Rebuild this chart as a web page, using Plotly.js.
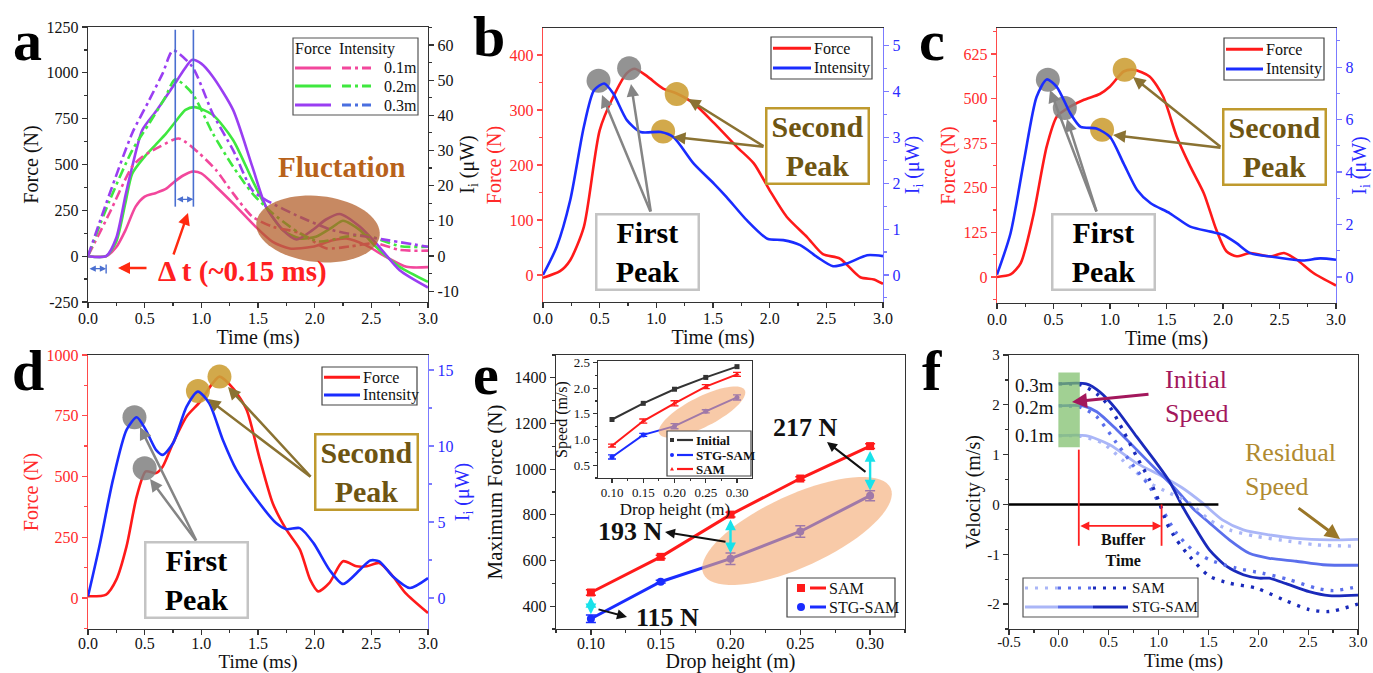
<!DOCTYPE html>
<html><head><meta charset="utf-8">
<script src="https://cdn.plot.ly/plotly-3.0.1.min.js"></script>
<style>html,body{margin:0;padding:0;background:#fff}#g{width:1373px;height:673px}</style>
</head><body><div id="g"></div>
<script>
// ---------------- DATA ----------------
// Panel a : force (N) and intensity (uW) for three drop heights
const aForceT01 = [0,0.16,0.25,0.33,0.42,0.5,0.6,0.69,0.76,0.84,0.92,1.0,1.13,1.28,1.48,1.63,1.78,1.98,2.16,2.28,2.45,2.63,2.81,3.0];
const aForce01  = [0,0,50,141,270,325,345,368,405,440,461,452,379,288,160,78,42,51,87,96,60,-4,-58,-60];
const aIntT01   = [0,0.19,0.39,0.48,0.63,0.8,0.98,1.13,1.28,1.45,1.63,1.87,2.1,2.31,2.54,2.75,3.0];
const aInt01    = [0,12.2,25.4,28.2,31.0,33.4,29.2,24.4,17.8,11.2,8.3,6.5,2.2,2.7,3.6,1.7,1.5];
const aForceT02 = [0,0.16,0.25,0.33,0.39,0.5,0.6,0.69,0.78,0.86,0.94,1.1,1.28,1.45,1.57,1.72,1.87,2.01,2.16,2.25,2.4,2.54,2.75,3.0];
const aForce02  = [0,0,80,290,450,543,610,670,740,798,813,771,634,415,270,142,97,106,160,193,142,51,-58,-140];
const aIntT02   = [0,0.19,0.39,0.54,0.68,0.77,0.92,1.1,1.28,1.45,1.63,1.87,2.04,2.28,2.45,2.75,3.0];
const aInt02    = [0,15.7,30,37.7,45,50.2,46.2,34.9,25.4,17.8,12.1,6.4,4.1,5.5,5.9,2.8,2.6];
const aForceT03 = [0,0.16,0.25,0.33,0.39,0.48,0.6,0.69,0.77,0.85,0.92,1.0,1.1,1.28,1.45,1.57,1.72,1.84,1.98,2.1,2.22,2.4,2.57,2.75,3.0];
const aForce03  = [0,0,100,330,488,689,790,871,944,1020,1071,1050,980,798,488,270,142,91,142,200,230,160,51,-77,-171];
const aIntT03   = [0,0.19,0.39,0.54,0.66,0.75,0.92,1.1,1.28,1.45,1.57,1.87,2.16,2.45,2.6,3.0];
const aInt03    = [0,17.6,34.9,44.3,52,58.4,53.8,40.5,30.1,18.7,15.9,11.1,7.3,5.5,4.7,2.6];

// Panel b
const bForceT = [0,0.15,0.24,0.36,0.5,0.62,0.74,0.81,0.92,1.06,1.18,1.33,1.51,1.71,1.86,2.0,2.15,2.33,2.47,2.62,2.8,2.92,3.0];
const bForce  = [-5,7,27,87,263,324,367,375,361,339,330,312,276,233,203,154,106,69,38,30,-4,-8,-16];
const bIntT   = [0,0.12,0.24,0.36,0.45,0.54,0.62,0.74,0.86,1.04,1.15,1.33,1.51,1.62,1.8,1.98,2.12,2.27,2.42,2.56,2.68,2.86,3.0];
const bInt    = [0,0.61,1.63,3.23,4.03,4.18,3.96,3.38,3.12,3.12,3.01,2.43,1.99,1.70,1.19,0.79,0.76,0.65,0.39,0.19,0.25,0.43,0.41];
const bFirstX = [0.49,0.76], bFirstY = [353,376];
const bSecondX = [1.18,1.06], bSecondY = [329,261];

// Panel c
const cForceT = [0,0.12,0.21,0.32,0.44,0.53,0.65,0.77,0.91,1.0,1.12,1.21,1.35,1.47,1.59,1.71,1.83,1.94,2.03,2.12,2.24,2.42,2.54,2.65,2.8,3.0];
const cForce  = [0,7,39,170,366,450,478,497,513,534,576,581,562,506,394,310,235,133,72,58,67,58,67,49,11,-24];
const cIntT   = [0,0.12,0.24,0.35,0.44,0.53,0.65,0.74,0.88,1.0,1.12,1.24,1.36,1.53,1.71,1.89,2.0,2.12,2.24,2.42,2.59,2.71,2.86,3.0];
const cInt    = [0.09,1.67,4.46,6.86,7.53,7.24,6.23,5.72,5.66,5.34,4.33,3.32,2.81,2.43,1.92,1.73,1.61,1.29,0.91,0.78,0.68,0.63,0.71,0.66];
const cFirstX = [0.45,0.60], cFirstY = [553,474];
const cSecondX = [1.13,0.93], cSecondY = [581,413];

// Panel d
const dForceT = [0,0.16,0.25,0.34,0.43,0.51,0.6,0.66,0.75,0.87,0.99,1.1,1.16,1.28,1.4,1.51,1.63,1.75,1.87,1.96,2.03,2.13,2.25,2.37,2.46,2.57,2.69,2.8,3.0];
const dForce  = [7,14,75,212,418,521,514,541,637,747,808,884,911,863,774,582,390,281,199,75,27,62,151,130,130,144,89,21,-62];
const dIntT   = [0,0.1,0.22,0.34,0.43,0.51,0.6,0.66,0.75,0.87,0.97,1.07,1.19,1.31,1.49,1.66,1.75,1.87,1.99,2.13,2.25,2.4,2.49,2.57,2.69,2.84,3.0];
const dInt    = [0.11,3.39,7.77,11.06,11.89,11.06,9.75,9.42,10.18,12.59,13.58,12.81,10.4,8.43,6.46,4.93,4.53,4.6,3.61,1.86,0.92,1.86,2.47,2.41,1.42,0.66,1.31];
const dFirstX = [0.41,0.50], dFirstY = [744,534];
const dSecondX = [0.97,1.16], dSecondY = [852,911];

// Panel e
const eHeight   = [0.10,0.15,0.20,0.25,0.30];
const eSAM      = [460,616,801,959,1101];
const eSAMErr   = [12,7,10,8,10];
const eSTG      = [345,507,608,727,884];
const eSTGErr   = [16,6,25,25,22];
const eGapTop   = [440,780,1080];
const eGapBot   = [358,625,900];
const eGapX     = [0.10,0.20,0.30];
// Inset speeds (m/s)
const inInitial = [1.39,1.705,1.98,2.21,2.42];
const inSTG     = [0.66,1.09,1.26,1.55,1.82];
const inSTGErr  = [0.04,0.03,0.05,0.03,0.05];
const inSAM     = [0.88,1.36,1.705,2.03,2.27];
const inSAMErr  = [0.03,0.04,0.05,0.04,0.04];

// Panel f : velocity (m/s)
const fStg03T = [0,0.275,0.41,0.58,0.78,0.98,1.11,1.24,1.38,1.51,1.68,1.85,2.01,2.11,2.28,2.51,2.71,3.0];
const fStg03  = [2.42,2.42,2.26,1.9,1.36,0.83,0.46,-0.04,-0.51,-0.91,-1.24,-1.41,-1.48,-1.48,-1.59,-1.75,-1.83,-1.82];
const fSam03T = [0,0.22,0.38,0.51,0.64,0.78,0.91,1.01,1.08,1.18,1.31,1.51,1.71,1.98,2.25,2.51,2.71,3.0];
const fSam03  = [2.42,2.4,2.22,1.96,1.5,0.96,0.49,0.03,-0.37,-0.71,-1.04,-1.44,-1.58,-1.68,-1.91,-2.11,-2.15,-2.0];
const fStg02T = [0,0.24,0.38,0.58,0.78,0.98,1.18,1.34,1.51,1.71,1.91,2.11,2.38,2.65,3.0];
const fStg02  = [1.98,1.98,1.86,1.5,1.1,0.69,0.29,-0.07,-0.37,-0.71,-0.98,-1.08,-1.14,-1.21,-1.22];
const fSam02T = [0,0.22,0.38,0.58,0.78,0.91,1.04,1.18,1.34,1.51,1.78,2.04,2.31,2.58,2.75,3.0];
const fSam02  = [1.98,1.95,1.76,1.23,0.69,0.36,-0.11,-0.58,-0.91,-1.11,-1.28,-1.38,-1.51,-1.68,-1.73,-1.65];
const fStg01T = [0,0.27,0.51,0.78,1.04,1.24,1.44,1.64,1.85,2.11,2.38,2.71,3.0];
const fStg01  = [1.38,1.38,1.2,0.83,0.56,0.33,0.03,-0.31,-0.51,-0.61,-0.68,-0.71,-0.70];
const fSam01T = [0,0.22,0.44,0.71,0.91,1.11,1.31,1.51,1.71,1.98,2.25,2.58,3.0];
const fSam01  = [1.38,1.37,1.23,0.76,0.43,0.23,0.03,-0.31,-0.51,-0.64,-0.72,-0.81,-0.84];

// Tick labels
const aForceTicks = [-250,0,250,500,750,1000,1250];
const aForceText  = ['-250','0','250','500','750','1000','1250'];
const aIntTicks   = [-10,0,10,20,30,40,50,60];
const aIntText    = ['-10','0','10','20','30','40','50','60'];
const cForceTicks = [0,125,250,375,500,625];
const fTimeTicks  = [-0.5,0,0.5,1,1.5,2,2.5,3];
const fTimeText   = ['-0.5','0.0','0.5','1.0','1.5','2.0','2.5','3.0'];
const fVelTicks   = [-2,-1,0,1,2,3];
const fVelText    = ['-2','-1','0','1','2','3'];
const heightTicks = [0.10,0.15,0.20,0.25,0.30];

// ---------------- HELPERS ----------------
const W = 1373, H = 673;
const FONT = 'Liberation Serif';
const X = p => p / W;
const Y = p => 1 - p / H;
const RED = '#ff1a1a', BLUE = '#1a2cff', REDTXT = '#ff2a2a', BLUETXT = '#2b2bff';
const PINK = '#f2479c', GREEN = '#3fe83f', PURPLE = '#9a3ef2';
const FL = '#aab6f7', FM = '#5b6fec', FD = '#1a2abb';

function ax(o) {
  const base = {showline:true, linewidth:1.3, linecolor:'#333', ticks:'outside', ticklen:5, tickwidth:1.2,
    tickcolor:'#333', showgrid:false, zeroline:false, fixedrange:true,
    tickfont:{family:FONT, size:16, color:'#111'}};
  return Object.assign(base, o);
}
function xax(o) { return ax(Object.assign({ticklabelstandoff:-4}, o)); }
function xaxLow(o) { return ax(Object.assign({ticklabelstandoff:-6}, o)); }
function ttl(text, color, size, standoff) {
  return {text:text, font:{family:FONT, size:size||20, color:color||'#111'}, standoff:standoff===undefined?4:standoff};
}
function ln(x, y, xa, ya, color, width, dash, extra) {
  return Object.assign({type:'scatter', mode:'lines', x:x, y:y, xaxis:xa, yaxis:ya,
    line:{color:color, width:width, dash:dash||'solid', shape:'spline', smoothing:0.7}, showlegend:false, hoverinfo:'skip'}, extra||{});
}
function dots(x, y, xa, ya, color) {
  return {type:'scatter', mode:'markers', x:x, y:y, xaxis:xa, yaxis:ya, showlegend:false, hoverinfo:'skip',
    marker:{size:24, color:color, line:{width:0}}};
}
function arrowPx(hx, hy, tx, ty, color, width, extra) {
  return Object.assign({x:X(hx), y:Y(hy), xref:'paper', yref:'paper', ax:tx-hx, ay:ty-hy, axref:'pixel', ayref:'pixel',
    text:'', showarrow:true, arrowhead:2, arrowsize:1, arrowwidth:width, arrowcolor:color}, extra||{});
}
function arrowData(xa, ya, hx, hy, tx, ty, color, width, extra) {
  return Object.assign({x:hx, y:hy, xref:xa, yref:ya, ax:tx, ay:ty, axref:xa, ayref:ya,
    text:'', showarrow:true, arrowhead:2, arrowsize:1, arrowwidth:width, arrowcolor:color}, extra||{});
}
function textPx(px, py, text, size, color, extra) {
  return Object.assign({x:X(px), y:Y(py), xref:'paper', yref:'paper', text:text, showarrow:false,
    font:{family:FONT, size:size, color:color}, xanchor:'center', yanchor:'middle'}, extra||{});
}
function boxPx(cx, cy, text, textColor, borderColor) {
  return {x:X(cx), y:Y(cy), xref:'paper', yref:'paper', text:'<b>'+text+'</b>', showarrow:false,
    font:{family:FONT, size:30, color:textColor}, xanchor:'center', yanchor:'middle',
    width:100, height:73, bgcolor:'#ffffff', bordercolor:borderColor, borderwidth:2.5, borderpad:0, align:'center'};
}
function ellipsePath(cx, cy, a, b, deg) {
  const th = deg * Math.PI / 180; let d = '';
  for (let i = 0; i <= 72; i++) {
    const t = i / 72 * 2 * Math.PI;
    const px = cx + a*Math.cos(t)*Math.cos(th) - b*Math.sin(t)*Math.sin(th);
    const py = cy - (a*Math.cos(t)*Math.sin(th) + b*Math.sin(t)*Math.cos(th));
    d += (i === 0 ? 'M' : 'L') + X(px).toFixed(5) + ',' + Y(py).toFixed(5);
  }
  return d + 'Z';
}
function segPx(x0, x1, y, color, width, dash) {
  return {type:'line', xref:'paper', yref:'paper', x0:X(x0), x1:X(x1), y0:Y(y), y1:Y(y), line:{color:color, width:width, dash:dash||'solid'}, layer:'above'};
}
function rectPx(x0, y0, x1, y1, color) {
  return {type:'rect', xref:'paper', yref:'paper', x0:X(x0), x1:X(x1), y0:Y(y1), y1:Y(y0), line:{color:color, width:1.2}, fillcolor:'#ffffff', layer:'above'};
}
function markPx(kind, cx, cy, r, color) {
  if (kind === 'tri') {
    return {type:'path', xref:'paper', yref:'paper', layer:'above', fillcolor:color, line:{width:0},
      path:'M'+X(cx-r)+','+Y(cy+r*0.8)+'L'+X(cx+r)+','+Y(cy+r*0.8)+'L'+X(cx)+','+Y(cy-r)+'Z'};
  }
  return {type:kind==='sq'?'rect':'circle', xref:'paper', yref:'paper', layer:'above', fillcolor:color, line:{width:0},
    x0:X(cx-r), x1:X(cx+r), y0:Y(cy+r), y1:Y(cy-r)};
}
const DD = '10px,4px,3px,4px';
const DOT = '3px,7px';

// ---------------- TRACES ----------------
const traces = [
  // a
  ln(aForceT01, aForce01, 'x', 'y', PINK, 2.6, 'solid', {name:'Force 0.1m'}),
  ln(aForceT02, aForce02, 'x', 'y', GREEN, 2.6, 'solid', {name:'Force 0.2m'}),
  ln(aForceT03, aForce03, 'x', 'y', PURPLE, 2.6, 'solid', {name:'Force 0.3m'}),
  ln(aIntT01, aInt01, 'x', 'y2', PINK, 2.6, DD, {name:'Intensity 0.1m'}),
  ln(aIntT02, aInt02, 'x', 'y2', GREEN, 2.6, DD, {name:'Intensity 0.2m'}),
  ln(aIntT03, aInt03, 'x', 'y2', PURPLE, 2.6, DD, {name:'Intensity 0.3m'}),
  // b
  ln(bForceT, bForce, 'x2', 'y3', RED, 2.6, 'solid', {name:'Force'}),
  ln(bIntT, bInt, 'x2', 'y4', BLUE, 2.6, 'solid', {name:'Intensity'}),
  dots(bFirstX, bFirstY, 'x2', 'y3', 'rgba(128,128,128,0.85)'),
  dots(bSecondX, bSecondY, 'x2', 'y3', 'rgba(205,160,55,0.9)'),
  // c
  ln(cForceT, cForce, 'x3', 'y5', RED, 2.6, 'solid', {name:'Force'}),
  ln(cIntT, cInt, 'x3', 'y6', BLUE, 2.6, 'solid', {name:'Intensity'}),
  dots(cFirstX, cFirstY, 'x3', 'y5', 'rgba(128,128,128,0.85)'),
  dots(cSecondX, cSecondY, 'x3', 'y5', 'rgba(205,160,55,0.9)'),
  // d
  ln(dForceT, dForce, 'x4', 'y7', RED, 2.6, 'solid', {name:'Force'}),
  ln(dIntT, dInt, 'x4', 'y8', BLUE, 2.6, 'solid', {name:'Intensity'}),
  dots(dFirstX, dFirstY, 'x4', 'y7', 'rgba(128,128,128,0.85)'),
  dots(dSecondX, dSecondY, 'x4', 'y7', 'rgba(205,160,55,0.9)'),
  // e
  {type:'scatter', mode:'lines+markers', x:eHeight, y:eSAM, xaxis:'x5', yaxis:'y9', name:'SAM', showlegend:false,
   line:{color:RED, width:3}, marker:{symbol:'square', size:8, color:RED},
   error_y:{type:'data', array:eSAMErr, color:RED, thickness:1.5, width:5}, hoverinfo:'skip'},
  {type:'scatter', mode:'lines+markers', x:eHeight, y:eSTG, xaxis:'x5', yaxis:'y9', name:'STG-SAM', showlegend:false,
   line:{color:BLUE, width:3}, marker:{symbol:'circle', size:8, color:BLUE},
   error_y:{type:'data', array:eSTGErr, color:BLUE, thickness:1.5, width:5}, hoverinfo:'skip'},
  // inset
  {type:'scatter', mode:'lines+markers', x:eHeight, y:inInitial, xaxis:'x6', yaxis:'y10', name:'Initial', showlegend:false,
   line:{color:'#333', width:2}, marker:{symbol:'square', size:5, color:'#333'}, hoverinfo:'skip'},
  {type:'scatter', mode:'lines+markers', x:eHeight, y:inSTG, xaxis:'x6', yaxis:'y10', name:'STG-SAM', showlegend:false,
   line:{color:BLUE, width:2}, marker:{symbol:'circle', size:5, color:BLUE},
   error_y:{type:'data', array:inSTGErr, color:BLUE, thickness:1.3, width:4}, hoverinfo:'skip'},
  {type:'scatter', mode:'lines+markers', x:eHeight, y:inSAM, xaxis:'x6', yaxis:'y10', name:'SAM', showlegend:false,
   line:{color:RED, width:2}, marker:{symbol:'triangle-up', size:5, color:RED},
   error_y:{type:'data', array:inSAMErr, color:RED, thickness:1.3, width:4}, hoverinfo:'skip'},
  // f
  ln(fStg01T, fStg01, 'x7', 'y11', FL, 2.8, 'solid', {name:'STG-SAM 0.1m'}),
  ln(fStg02T, fStg02, 'x7', 'y11', FM, 2.8, 'solid', {name:'STG-SAM 0.2m'}),
  ln(fStg03T, fStg03, 'x7', 'y11', FD, 2.8, 'solid', {name:'STG-SAM 0.3m'}),
  ln(fSam01T, fSam01, 'x7', 'y11', FL, 3.4, DOT, {name:'SAM 0.1m'}),
  ln(fSam02T, fSam02, 'x7', 'y11', FM, 3.4, DOT, {name:'SAM 0.2m'}),
  ln(fSam03T, fSam03, 'x7', 'y11', FD, 3.4, DOT, {name:'SAM 0.3m'})
];

// ---------------- LAYOUT ----------------
const layout = {
  width:W, height:H, margin:{l:0, r:0, t:0, b:0}, paper_bgcolor:'#fff', plot_bgcolor:'rgba(0,0,0,0)',
  font:{family:FONT, size:16, color:'#111'}, showlegend:false,
  // a
  xaxis: xax({domain:[X(88),X(428)], anchor:'y', range:[0,3], dtick:0.5, tick0:0, tickformat:'.1f', mirror:true,
    minor:{ticks:'outside', ticklen:3, dtick:0.25, tick0:0, tickcolor:'#333'}, title:ttl('Time (ms)', '#111', 20, 0)}),
  yaxis: ax({domain:[Y(302),Y(27)], anchor:'x', range:[-250,1250], tickmode:'array', tickvals:aForceTicks, ticktext:aForceText,
    minor:{ticks:'outside', ticklen:3, dtick:125, tick0:0, tickcolor:'#333'}, title:ttl('Force (N)', '#111', 20, 2)}),
  yaxis2: ax({overlaying:'y', anchor:'x', side:'right', range:[-13.1,65.1], tickmode:'array', tickvals:aIntTicks, ticktext:aIntText,
    minor:{ticks:'outside', ticklen:3, dtick:5, tick0:0, tickcolor:'#333'}, title:ttl('I<sub>i</sub> (μW)', '#111', 20, 2)}),
  // b
  xaxis2: xax({domain:[X(543),X(883)], anchor:'y3', range:[0,3], dtick:0.5, tick0:0, tickformat:'.1f', mirror:true,
    minor:{ticks:'outside', ticklen:3, dtick:0.25, tick0:0, tickcolor:'#333'}, title:ttl('Time (ms)', '#111', 20, 0)}),
  yaxis3: ax({domain:[Y(302),Y(28)], anchor:'x2', range:[-49,449], dtick:100, tick0:0, linecolor:'#ff4a4a', tickcolor:'#ff4a4a',
    tickfont:{family:FONT, size:16, color:REDTXT},
    minor:{ticks:'outside', ticklen:3, dtick:50, tick0:0, tickcolor:'#ff4a4a'}, title:ttl('Force (N)', REDTXT, 20, 2)}),
  yaxis4: ax({overlaying:'y3', anchor:'x2', side:'right', range:[-0.59,5.39], dtick:1, tick0:0, linecolor:'#7b7bff', tickcolor:'#7b7bff',
    tickfont:{family:FONT, size:16, color:BLUETXT},
    minor:{ticks:'outside', ticklen:3, dtick:0.5, tick0:0, tickcolor:'#7b7bff'}, title:ttl('I<sub>i</sub> (μW)', BLUETXT, 20, 2)}),
  // c
  xaxis3: xax({domain:[X(997),X(1336)], anchor:'y5', range:[0,3], dtick:0.5, tick0:0, tickformat:'.1f', mirror:true,
    minor:{ticks:'outside', ticklen:3, dtick:0.25, tick0:0, tickcolor:'#333'}, title:ttl('Time (ms)', '#111', 20, 0)}),
  yaxis5: ax({domain:[Y(303),Y(28)], anchor:'x3', range:[-73,698], tickmode:'array', tickvals:cForceTicks, linecolor:'#ff4a4a', tickcolor:'#ff4a4a',
    tickfont:{family:FONT, size:16, color:REDTXT},
    minor:{ticks:'outside', ticklen:3, dtick:62.5, tick0:0, tickcolor:'#ff4a4a'}, title:ttl('Force (N)', REDTXT, 20, 2)}),
  yaxis6: ax({overlaying:'y5', anchor:'x3', side:'right', range:[-0.99,9.49], dtick:2, tick0:0, linecolor:'#7b7bff', tickcolor:'#7b7bff',
    tickfont:{family:FONT, size:16, color:BLUETXT},
    minor:{ticks:'outside', ticklen:3, dtick:1, tick0:0, tickcolor:'#7b7bff'}, title:ttl('I<sub>i</sub> (μW)', BLUETXT, 20, 2)}),
  // d
  xaxis4: xaxLow({domain:[X(88),X(428)], anchor:'y7', range:[0,3], dtick:0.5, tick0:0, tickformat:'.1f', mirror:true,
    minor:{ticks:'outside', ticklen:3, dtick:0.25, tick0:0, tickcolor:'#333'}, title:ttl('Time (ms)', '#111', 19, 0)}),
  yaxis7: ax({domain:[Y(629),Y(355)], anchor:'x4', range:[-128,1000], dtick:250, tick0:0, linecolor:'#ff4a4a', tickcolor:'#ff4a4a',
    tickfont:{family:FONT, size:16, color:REDTXT},
    minor:{ticks:'outside', ticklen:3, dtick:125, tick0:0, tickcolor:'#ff4a4a'}, title:ttl('Force (N)', REDTXT, 20, 2)}),
  yaxis8: ax({overlaying:'y7', anchor:'x4', side:'right', range:[-2.04,15.99], dtick:5, tick0:0, linecolor:'#7b7bff', tickcolor:'#7b7bff',
    tickfont:{family:FONT, size:16, color:BLUETXT},
    minor:{ticks:'outside', ticklen:3, dtick:2.5, tick0:0, tickcolor:'#7b7bff'}, title:ttl('I<sub>i</sub> (μW)', BLUETXT, 20, 2)}),
  // e
  xaxis5: xaxLow({domain:[X(556),X(905)], anchor:'y9', range:[0.075,0.325], tickmode:'array', tickvals:heightTicks, tickformat:'.2f', mirror:true,
    minor:{ticks:'outside', ticklen:3, dtick:0.025, tick0:0.1, tickcolor:'#333'}, title:ttl('Drop height (m)', '#111', 20, 0)}),
  yaxis9: ax({domain:[Y(629),Y(355)], anchor:'x5', range:[300,1500], dtick:200, tick0:0, mirror:true,
    minor:{ticks:'outside', ticklen:3, dtick:100, tick0:0, tickcolor:'#333'}, title:ttl('Maximum Force (N)', '#111', 21, 6)}),
  // inset
  xaxis6: ax({domain:[X(598),X(752)], anchor:'y10', range:[0.0776,0.324], tickmode:'array', tickvals:heightTicks, tickformat:'.2f', mirror:true,
    ticklen:4, tickfont:{family:FONT, size:13, color:'#111'}, ticklabelstandoff:-2,
    minor:{ticks:'outside', ticklen:2, dtick:0.025, tick0:0.1, tickcolor:'#333'}, title:ttl('Drop height (m)', '#111', 17, 0)}),
  yaxis10: ax({domain:[Y(478),Y(361)], anchor:'x6', range:[0.25,2.53], dtick:0.5, tick0:0, tickformat:'.1f', mirror:true,
    ticklen:4, tickfont:{family:FONT, size:13, color:'#111'},
    minor:{ticks:'outside', ticklen:2, dtick:0.25, tick0:0, tickcolor:'#333'}, title:ttl('Speed (m/s)', '#111', 16, 2)}),
  // f
  xaxis7: xaxLow({domain:[X(1009),X(1358)], anchor:'y11', range:[-0.5,3], tickmode:'array', tickvals:fTimeTicks, ticktext:fTimeText, mirror:true,
    tickfont:{family:FONT, size:15, color:'#111'},
    minor:{ticks:'outside', ticklen:3, dtick:0.25, tick0:0, tickcolor:'#333'}, title:ttl('Time (ms)', '#111', 19, 0)}),
  yaxis11: ax({domain:[Y(629),Y(355)], anchor:'x7', range:[-2.5,3], tickmode:'array', tickvals:fVelTicks, ticktext:fVelText, mirror:true,
    tickfont:{family:FONT, size:15, color:'#111'},
    minor:{ticks:'outside', ticklen:3, dtick:0.5, tick0:0, tickcolor:'#333'}, title:ttl('Velocity (m/s)', '#111', 20, 1)}),
  shapes: [],
  annotations: []
};

const S = layout.shapes, A = layout.annotations;
// panel a decorations
S.push({type:'line', xref:'x', yref:'y', x0:0.77, x1:0.77, y0:270, y1:1235, line:{color:'#4a6fd0', width:1.6}});
S.push({type:'line', xref:'x', yref:'y', x0:0.93, x1:0.93, y0:270, y1:1235, line:{color:'#4a6fd0', width:1.6}});
S.push({type:'line', xref:'x', yref:'y', x0:0.16, x1:0.16, y0:-45, y1:-95, line:{color:'#4a6fd0', width:1.4}});
S.push({type:'path', xref:'paper', yref:'paper', path:ellipsePath(318, 229, 62, 33, -6), fillcolor:'rgb(178,92,38)', opacity:0.72, line:{width:0}, layer:'above'});
A.push(arrowData('x', 'y', 0.93, 310, 0.77, 310, '#4a6fd0', 1.4, {arrowside:'end+start', arrowsize:0.9}));
A.push(arrowData('x', 'y', 0.16, -68, 0.0, -68, '#4a6fd0', 1.4, {arrowside:'end+start', arrowsize:0.9}));
A.push(arrowPx(118, 268, 148, 268, '#ff2a10', 2.4));
A.push(arrowPx(188, 213, 173, 256, '#ff2a10', 2.4));
A.push(textPx(242, 271, '<b>Δ t (~0.15 ms)</b>', 29, '#ff2020'));
A.push(textPx(341, 167, '<b>Fluctation</b>', 29, '#b8621b'));
// panel a legend
S.push(rectPx(293, 38, 418, 115, '#555'));
A.push(textPx(313, 49, 'Force', 16, '#111'));
A.push(textPx(367, 49, 'Intensity', 16, '#111'));
[[68, PINK, PINK, '0.1m'], [86, GREEN, GREEN, '0.2m'], [105, PURPLE, '#4a6fe0', '0.3m']].forEach(r => {
  S.push(segPx(295, 331, r[0], r[1], 3));
  S.push(segPx(342, 372, r[0], r[2], 3, '9px,4px,3px,4px'));
  A.push(textPx(400, r[0], r[3], 16, '#111'));
});
// simple two-row legends for b, c, d
function legend2(x0, y0, x1, y1, seg) {
  S.push(rectPx(x0, y0, x1, y1, '#444'));
  const r1 = y0 + (y1 - y0) * 0.27, r2 = y0 + (y1 - y0) * 0.74;
  S.push(segPx(x0 + 2, x0 + seg, r1, RED, 3));
  S.push(segPx(x0 + 2, x0 + seg, r2, BLUE, 3));
  A.push(textPx(x0 + seg + 1, r1, 'Force', 16, '#111', {xanchor:'left'}));
  A.push(textPx(x0 + seg + 1, r2, 'Intensity', 16, '#111', {xanchor:'left'}));
}
legend2(771, 37, 872, 79, 40);
legend2(1224, 38, 1324, 80, 39);
legend2(322, 367, 417, 405, 38);

// panels b, c, d boxes and arrows
const GRAYA = '#858585', GOLDA = '#8a7232', GOLDTXT = '#6e5512', GOLDB = '#bf9a2e';
A.push(arrowPx(602, 95, 651, 213, GRAYA, 2.5));
A.push(arrowPx(631, 84, 651, 213, GRAYA, 2.5));
A.push(arrowPx(688, 99, 765, 147, GOLDA, 2.5));
A.push(arrowPx(673, 137, 765, 147, GOLDA, 2.5));
A.push(boxPx(647, 252, 'First<br>Peak', '#000', '#c4c4c4'));
A.push(boxPx(817, 146, 'Second<br>Peak', GOLDTXT, GOLDB));

A.push(arrowPx(1050, 90, 1097, 213, GRAYA, 2.5));
A.push(arrowPx(1067, 119, 1097, 213, GRAYA, 2.5));
A.push(arrowPx(1133, 77, 1222, 148, GOLDA, 2.5));
A.push(arrowPx(1113, 135, 1222, 148, GOLDA, 2.5));
A.push(boxPx(1103, 252, 'First<br>Peak', '#000', '#c4c4c4'));
A.push(boxPx(1274, 147, 'Second<br>Peak', GOLDTXT, GOLDB));

A.push(arrowPx(140, 427, 197, 542, GRAYA, 2.5));
A.push(arrowPx(150, 479, 197, 542, GRAYA, 2.5));
A.push(arrowPx(228, 387, 312, 478, GOLDA, 2.5));
A.push(arrowPx(208, 399, 312, 478, GOLDA, 2.5));
A.push(boxPx(196, 580, 'First<br>Peak', '#000', '#c4c4c4'));
A.push(boxPx(366, 472, 'Second<br>Peak', GOLDTXT, GOLDB));

// panel e decorations
S.push({type:'path', xref:'paper', yref:'paper', path:ellipsePath(797, 531, 103, 36, 24.6), fillcolor:'rgb(244,170,115)', opacity:0.62, line:{width:0}, layer:'above'});
S.push({type:'path', xref:'paper', yref:'paper', path:ellipsePath(702, 412, 48, 15, 27), fillcolor:'rgb(244,170,115)', opacity:0.62, line:{width:0}, layer:'above'});
eGapX.forEach((gx, i) => {
  A.push(arrowData('x5', 'y9', gx, eGapTop[i], gx, eGapBot[i], '#18e2ea', 2.4, {arrowside:'end+start', arrowsize:0.9}));
});
A.push(arrowPx(665, 532, 727, 542, '#111', 2));
A.push(arrowPx(827, 442, 867, 473, '#111', 2));
A.push(arrowPx(627, 617, 597, 609, '#111', 2));
A.push(textPx(630, 531, '<b>193 N</b>', 26, '#111'));
A.push(textPx(805, 427, '<b>217 N</b>', 26, '#111'));
A.push(textPx(667, 617, '<b>115 N</b>', 26, '#111'));
// e legend
S.push(rectPx(787, 578, 895, 617, '#444'));
S.push(markPx('sq', 801, 588, 4, RED));
S.push(segPx(810, 826, 588, RED, 3));
A.push(textPx(827, 588, 'SAM', 16, '#111', {xanchor:'left'}));
S.push(markPx('circle', 801, 607, 4, BLUE));
S.push(segPx(810, 826, 607, BLUE, 3));
A.push(textPx(827, 607, 'STG-SAM', 16, '#111', {xanchor:'left'}));
// inset legend
S.push(rectPx(667, 431, 751, 476, '#444'));
[[440, '#333', 'sq', 'Initial'], [455, BLUE, 'circle', 'STG-SAM'], [469, RED, 'tri', 'SAM']].forEach(r => {
  S.push(markPx(r[2], 672, r[0], 2, r[1]));
  S.push(segPx(677, 693, r[0], r[1], 2.2));
  A.push(textPx(694, r[0], '<b>'+r[3]+'</b>', 13, '#111', {xanchor:'left'}));
});

// panel f decorations
S.push({type:'rect', xref:'x7', yref:'y11', x0:-0.005, x1:0.21, y0:1.15, y1:2.65, fillcolor:'rgb(125,190,105)', opacity:0.72, line:{width:0}, layer:'above'});
S.push({type:'line', xref:'x7', yref:'y11', x0:-0.5, x1:1.6, y0:0, y1:0, line:{color:'#000', width:2.5}, layer:'above'});
S.push({type:'line', xref:'x7', yref:'y11', x0:0.2, x1:0.2, y0:1.1, y1:-0.83, line:{color:'#ff2020', width:1.8}, layer:'above'});
S.push({type:'line', xref:'x7', yref:'y11', x0:1.03, x1:1.03, y0:0, y1:-0.83, line:{color:'#ff2020', width:1.8}, layer:'above'});
A.push(arrowData('x7', 'y11', 1.03, -0.43, 0.2, -0.43, '#ff2020', 1.8, {arrowside:'end+start', arrowsize:1}));
A.push({x:0.64, y:-0.92, xref:'x7', yref:'y11', text:'<b>Buffer<br>Time</b>', showarrow:false, font:{family:FONT, size:16, color:'#111'}});
A.push(textPx(1034, 385, '0.3m', 19, '#111'));
A.push(textPx(1034, 407, '0.2m', 19, '#111'));
A.push(textPx(1034, 435, '0.1m', 19, '#111'));
A.push(textPx(1163, 396, 'Initial<br>Speed', 26, '#a3175c', {xanchor:'left', align:'left'}));
A.push(arrowPx(1072, 402, 1150, 394, '#a3175c', 3));
A.push(textPx(1243, 469, 'Residual<br>Speed', 26, '#b08a30', {xanchor:'left', align:'left'}));
A.push(arrowPx(1340, 539, 1297, 507, '#9a7628', 3));
// panel f legend
S.push(rectPx(1023, 578, 1198, 617, '#555'));
S.push(segPx(1025, 1058, 588, FL, 3, DOT));
S.push(segPx(1058, 1093, 588, FM, 3, DOT));
S.push(segPx(1093, 1128, 588, FD, 3, DOT));
S.push(segPx(1025, 1058, 607, FL, 3));
S.push(segPx(1058, 1093, 607, FM, 3));
S.push(segPx(1093, 1128, 607, FD, 3));
A.push(textPx(1130, 588, 'SAM', 15, '#111', {xanchor:'left'}));
A.push(textPx(1130, 607, 'STG-SAM', 15, '#111', {xanchor:'left'}));

// panel letters
[['a', 27, 40], ['b', 489, 36], ['c', 932, 40], ['d', 28, 370], ['e', 486, 374], ['f', 932, 370]].forEach(l => {
  A.push({x:X(l[1]), y:Y(l[2]), xref:'paper', yref:'paper', text:'<b>'+l[0]+'</b>', showarrow:false,
    font:{family:FONT, size:58, color:'#000'}, xanchor:'center', yanchor:'middle'});
});

Plotly.newPlot('g', traces, layout, {staticPlot:true, displayModeBar:false});
</script>
</body></html>
